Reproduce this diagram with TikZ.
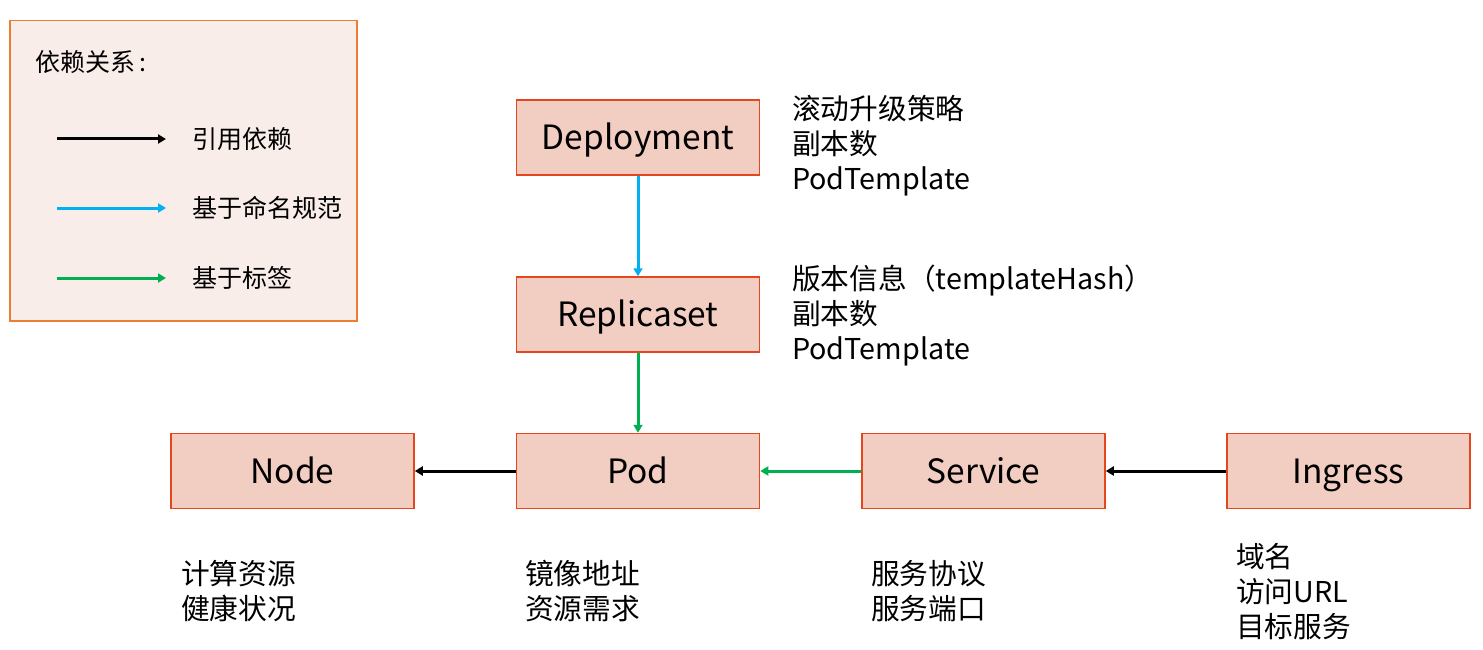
\documentclass[tikz,border=0pt]{standalone}
\usepackage{fontspec}
\setmainfont{Noto Sans CJK SC}
\usetikzlibrary{arrows.meta}
\definecolor{boxfill}{HTML}{F2CEC2}
\definecolor{boxline}{HTML}{E5461E}
\definecolor{legfill}{HTML}{F9EDEA}
\definecolor{legline}{HTML}{ED7D31}
\definecolor{cblue}{HTML}{00B0F0}
\definecolor{cgreen}{HTML}{00B050}
\tikzset{
  kbox/.style={draw=boxline, fill=boxfill, line width=1.5pt, minimum width=243pt, minimum height=75pt, inner sep=0pt, text height=30pt, text depth=6pt, font=\fontsize{33.5}{40}\selectfont},
  note/.style={anchor=north west, align=left, inner sep=0pt, font=\fontsize{28.7}{35}\selectfont},
  conn/.style={line width=3pt, -{Triangle[length=8pt,width=9pt]}},
  legtext/.style={anchor=west, inner sep=0pt, font=\fontsize{25}{30}\selectfont}
}
\begin{document}
\begin{tikzpicture}[x=1pt,y=-1pt]
\useasboundingbox (0,0) rectangle (1483,650);
% legend
\node[draw=legline, fill=legfill, line width=1.5pt, minimum width=347pt, minimum height=300pt, inner sep=0pt, anchor=north west] (legend) at (9,20) {};
\node[legtext] (legtitle) at (35,62) {依赖关系\,:};
\coordinate (l1a) at (57,139); \coordinate (l1b) at (166,139);
\coordinate (l2a) at (57,208); \coordinate (l2b) at (166,208);
\coordinate (l3a) at (57,278); \coordinate (l3b) at (166,278);
\draw[conn, black] (l1a) -- (l1b);
\draw[conn, cblue] (l2a) -- (l2b);
\draw[conn, cgreen] (l3a) -- (l3b);
\node[legtext] (lt1) at (192,139) {引用依赖};
\node[legtext] (lt2) at (192,208) {基于命名规范};
\node[legtext] (lt3) at (192,278) {基于标签};
% boxes
\node[kbox] (dep) at (638,137.5) {Deployment};
\node[kbox] (rs) at (638,314.5) {Replicaset};
\node[kbox] (pod) at (638,471) {Pod};
\node[kbox] (node) at (292.5,471) {Node};
\node[kbox] (svc) at (983.5,471) {Service};
\node[kbox] (ing) at (1348.5,471) {Ingress};
% connectors
\draw[conn, cblue] (dep) -- (rs);
\draw[conn, cgreen] (rs) -- (pod);
\draw[conn, black] (pod) -- (node);
\draw[conn, cgreen] (svc) -- (pod);
\draw[conn, black] (ing) -- (svc);
% notes
\node[note] (n1) at (792,95) {滚动升级策略\\副本数\\PodTemplate};
\node[note] (n2) at (792,265) {版本信息（templateHash）\\副本数\\PodTemplate};
\node[note] (n3) at (181,560) {计算资源\\健康状况};
\node[note] (n4) at (525,560) {镜像地址\\资源需求};
\node[note] (n5) at (871,560) {服务协议\\服务端口};
\node[note] (n6) at (1236,543) {域名\\访问URL\\目标服务};
\end{tikzpicture}
\end{document}
